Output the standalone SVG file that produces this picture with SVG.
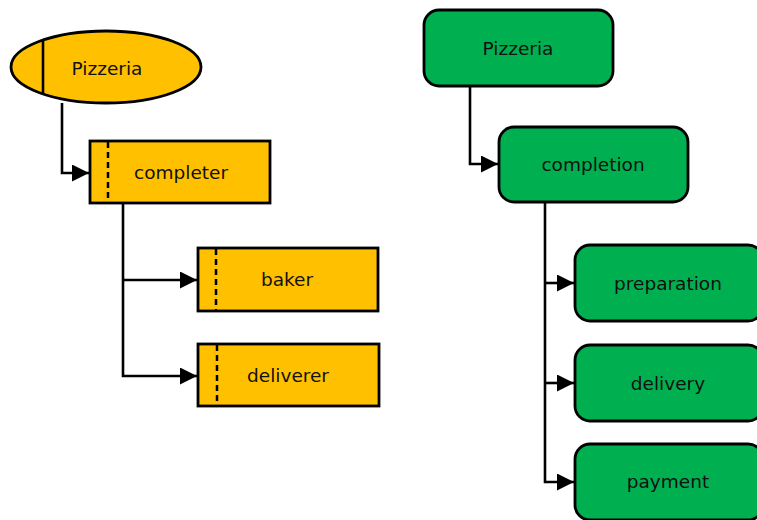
<svg xmlns="http://www.w3.org/2000/svg" width="757" height="520" viewBox="0 0 757 520">
<style>
.o{fill:#FFC000;stroke:#000;stroke-width:2.8}
.g{fill:#00B050;stroke:#000;stroke-width:2.8}
.d{stroke:#000;stroke-width:2.5;stroke-dasharray:6 4;fill:none}
.s{stroke:#000;stroke-width:2.6;fill:none}
text{font-family:"DejaVu Sans",Verdana,sans-serif;font-size:18.5px;fill:#111;text-anchor:middle;dominant-baseline:central}
</style>
<defs>
<marker id="ah" viewBox="0 0 16 16" refX="16" refY="8" markerWidth="17" markerHeight="17" markerUnits="userSpaceOnUse" orient="auto">
<path d="M0,0L16,8L0,16z" fill="#000"/>
</marker>
</defs>
<g id="connectors">
<path class="s" d="M62,103V173H89" marker-end="url(#ah)"/>
<path class="s" d="M123,203V376H197" marker-end="url(#ah)"/>
<path class="s" d="M123,280H197" marker-end="url(#ah)"/>
<path class="s" d="M470,86V164H498" marker-end="url(#ah)"/>
<path class="s" d="M545,202V482H574" marker-end="url(#ah)"/>
<path class="s" d="M545,283H574" marker-end="url(#ah)"/>
<path class="s" d="M545,383H574" marker-end="url(#ah)"/>
</g>
<g id="pizzeria-left">
<ellipse class="o" cx="106" cy="67" rx="95" ry="36"/>
<line class="s" x1="43" y1="40" x2="43" y2="95"/>
<text x="107" y="68">Pizzeria</text>
</g>
<g id="completer">
<rect class="o" x="90" y="141" width="180" height="62"/>
<line class="d" x1="108" y1="142" x2="108" y2="202"/>
<text x="181" y="172">completer</text>
</g>
<g id="baker">
<rect class="o" x="198" y="248" width="180" height="63"/>
<line class="d" x1="216" y1="249" x2="216" y2="310"/>
<text x="287" y="279">baker</text>
</g>
<g id="deliverer">
<rect class="o" x="198" y="344" width="181" height="62"/>
<line class="d" x1="217" y1="345" x2="217" y2="405"/>
<text x="288" y="375">deliverer</text>
</g>
<g id="pizzeria-right">
<rect class="g" x="424" y="10" width="189" height="76" rx="15"/>
<text x="518" y="48">Pizzeria</text>
</g>
<g id="completion">
<rect class="g" x="499" y="127" width="189" height="75" rx="15"/>
<text x="593" y="164">completion</text>
</g>
<g id="preparation">
<rect class="g" x="575" y="245" width="188" height="76" rx="15"/>
<text x="668" y="283">preparation</text>
</g>
<g id="delivery">
<rect class="g" x="575" y="345" width="188" height="76" rx="15"/>
<text x="668" y="383">delivery</text>
</g>
<g id="payment">
<rect class="g" x="575" y="444" width="188" height="76" rx="15"/>
<text x="668" y="481">payment</text>
</g>
</svg>
